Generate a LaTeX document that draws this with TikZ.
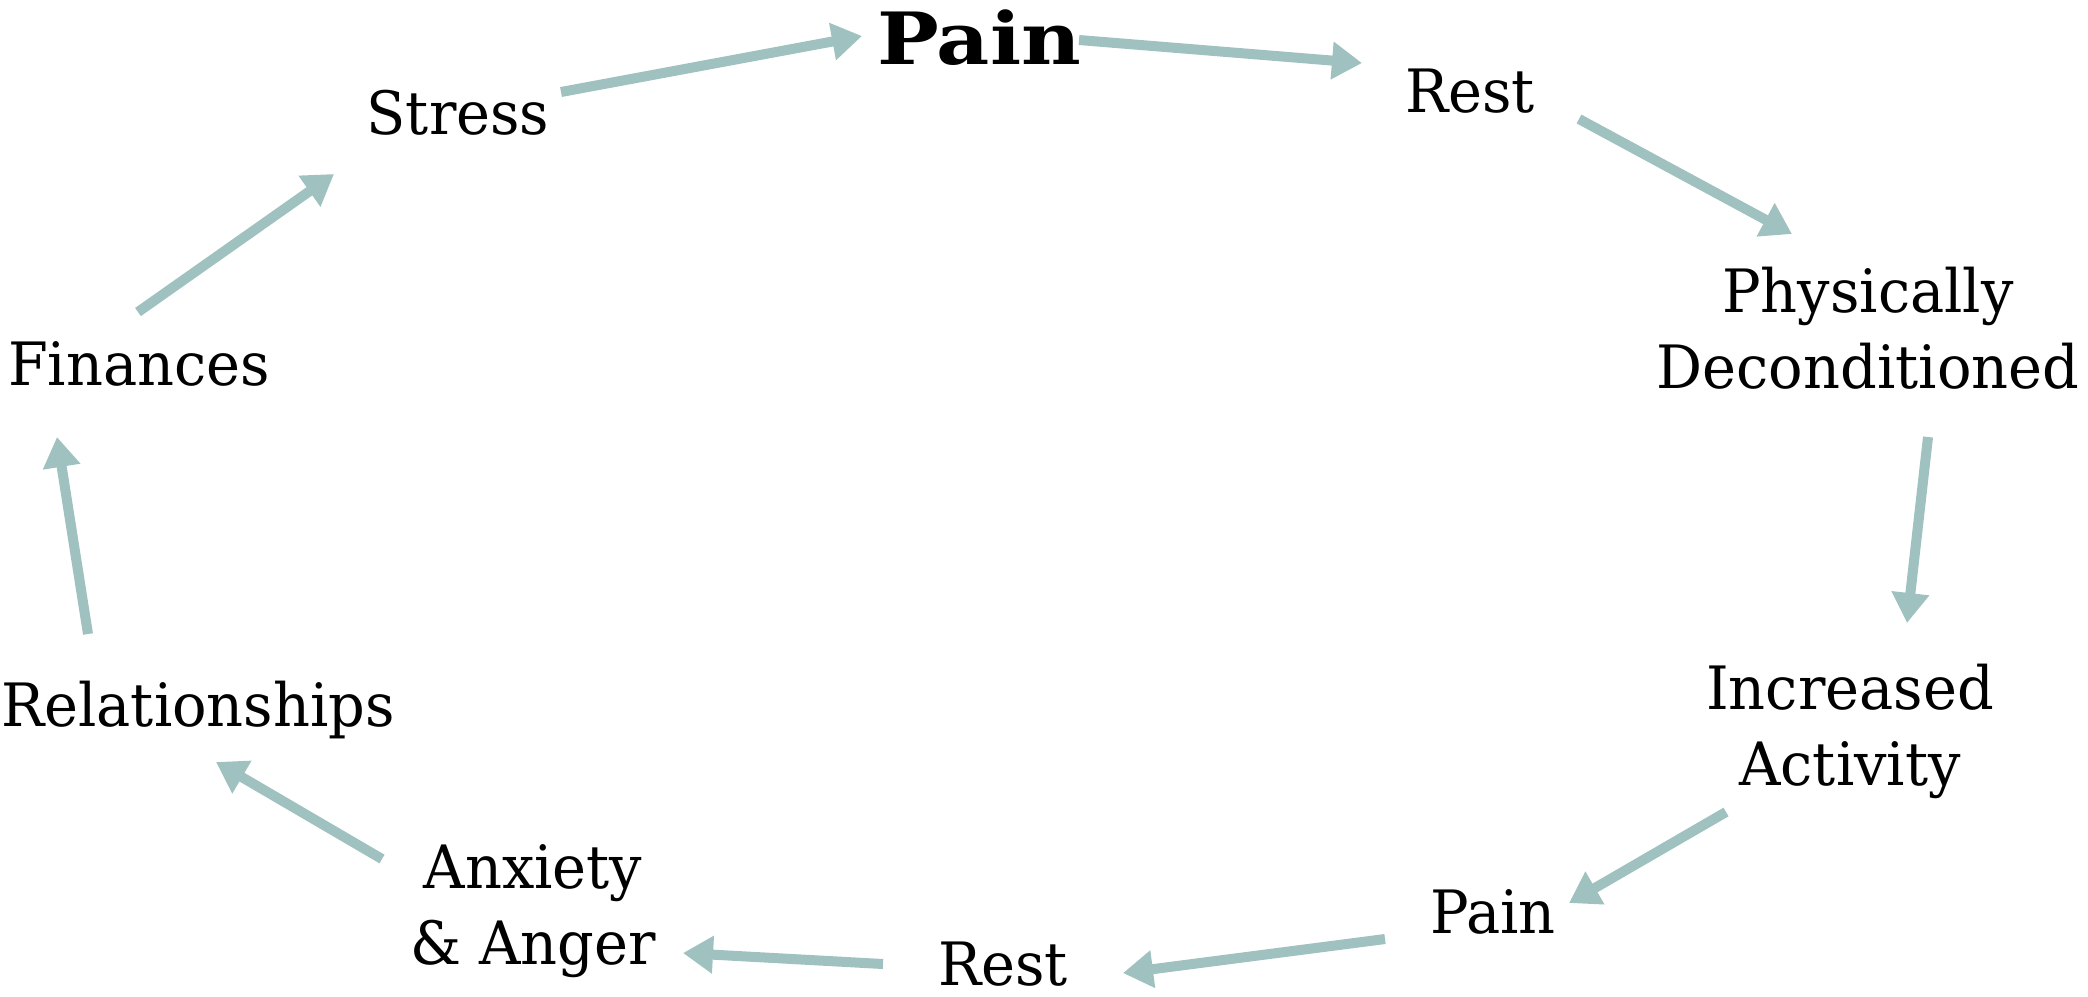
\documentclass[tikz,border=0pt]{standalone}
\usepackage{fontspec}
\setmainfont{DejaVu Serif}[FakeStretch=0.96, BoldFeatures={FakeStretch=1.14}]
\usetikzlibrary{arrows.meta, positioning}

\definecolor{cyclegrey}{RGB}{159,193,191}

\begin{document}
\begin{tikzpicture}[
  x=0.01cm, y=-0.01cm,
  stage/.style={inner sep=0pt, font=\fontsize{17}{21.6}\selectfont, align=center},
  keystage/.style={inner sep=0pt, font=\fontsize{20.5}{24}\selectfont\bfseries},
  flow/.style={-{Triangle[length=0.3cm, width=0.36cm]}, draw=cyclegrey, line width=0.1cm},
]

% Canvas (pixel grid, y downwards)
\useasboundingbox (0,0) rectangle (2088,996);

% =========================
% Stages of the cycle
% =========================
\node[keystage, anchor=base] (pain)      at (979,64)   {Pain};
\node[stage, anchor=base]    (rest)      at (1470,112) {Rest};
\node[stage, anchor=north]   (decond)    at (1868,266) {Physically\\Deconditioned};
\node[stage, anchor=north]   (activity)  at (1850,663) {Increased\\Activity};
\node[stage, anchor=base]    (pain2)     at (1493,933) {Pain};
\node[stage, anchor=base]    (rest2)     at (1003,985) {Rest};
\node[stage, anchor=north]   (anxiety)   at (533,844)  {Anxiety\\\& Anger};
\node[stage, anchor=base]    (relations) at (198,726)  {Relationships};
\node[stage, anchor=base]    (finances)  at (139,385)  {Finances};
\node[stage, anchor=base]    (stress)    at (458,134)  {Stress};

% =========================
% Arrows (clockwise)
% =========================
\draw[flow] ([shift={(103,-42)}]stress.base)     -- ([shift={(-117,-28)}]pain.base);
\draw[flow] ([shift={(100,-24)}]pain.base)       -- ([shift={(-108,-49)}]rest.base);
\draw[flow] ([shift={(109,7)}]rest.base)         -- ([shift={(-76,-32)}]decond.north);
\draw[flow] ([shift={(60,171)}]decond.north)     -- ([shift={(57,-40)}]activity.north);
\draw[flow] ([shift={(-124,149)}]activity.north) -- ([shift={(76,-30)}]pain2.base);
\draw[flow] ([shift={(-108,6)}]pain2.base)       -- ([shift={(120,-12)}]rest2.base);
\draw[flow] ([shift={(-120,-21)}]rest2.base)     -- ([shift={(150,109)}]anxiety.north);
\draw[flow] ([shift={(-151,15)}]anxiety.north)   -- ([shift={(18,36)}]relations.base);
\draw[flow] ([shift={(-110,-92)}]relations.base) -- ([shift={(-82,52)}]finances.base);
\draw[flow] ([shift={(-1,-73)}]finances.base)    -- ([shift={(-124,40)}]stress.base);

\end{tikzpicture}
\end{document}
